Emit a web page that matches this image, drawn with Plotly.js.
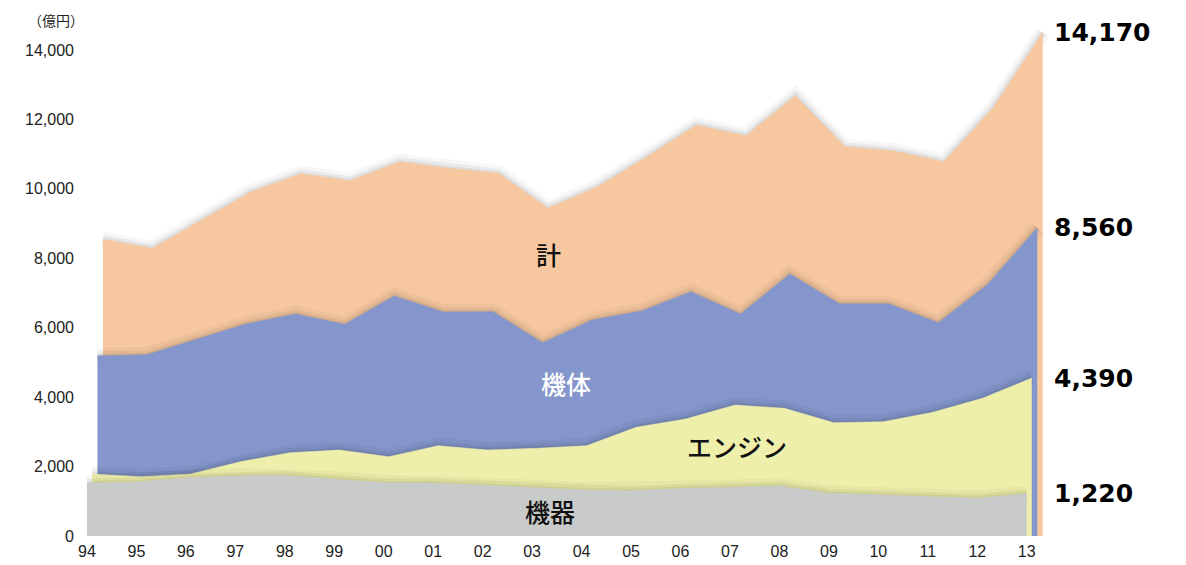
<!DOCTYPE html>
<html>
<head>
<meta charset="utf-8">
<script src="https://cdn.plot.ly/plotly-3.0.1.min.js"></script>
<style>
  html, body { margin: 0; padding: 0; background: #fff; }
  #plotArea { width: 1186px; height: 565px; }
</style>
</head>
<body>
<div id="plotArea"></div>
<script>
// fiscal years
var years = ["94", "95", "96", "97", "98", "99", "00", "01", "02", "03",
             "04", "05", "06", "07", "08", "09", "10", "11", "12", "13"];

// 億円
var total     = [8216, 7956, 8772, 9587, 10106, 9904, 10451, 10261, 10117, 9109,
                 9731, 10595, 11508, 11200, 12352, 10883, 10759, 10451, 12007, 14170];
var airframe  = [4877, 4906, 5349, 5790, 6078, 5781, 6597, 6136, 6145, 5252,
                 5905, 6165, 6721, 6078, 7231, 6376, 6376, 5828, 6934, 8560];
var engine    = [1628, 1550, 1628, 1982, 2241, 2319, 2126, 2443, 2319, 2368,
                 2443, 2973, 3212, 3615, 3520, 3105, 3134, 3405, 3808, 4390];
var equipment = [1527, 1556, 1670, 1730, 1740, 1640, 1535, 1525, 1470, 1400,
                 1325, 1305, 1365, 1400, 1440, 1230, 1180, 1135, 1085, 1220];

var names = ["計", "機体", "エンジン", "機器"];

// back to front; dx/dy = pseudo 3D depth offset in pixels
var layers = [
    {y: total,     color: "#F7C8A0", dx: 16,   dy: 11.5},
    {y: airframe,  color: "#8496CB", dx: 10.5, dy: 11},
    {y: engine,    color: "#EEEFAA", dx: 5,    dy: 5.5},
    {y: equipment, color: "#C9CACA", dx: 0,    dy: 0}
];

var W = 970, H = 520;             // plot area in px
var xr = [-0.14, 19.47];
var yr = [-115, 14864];
var pxX = W / (xr[1] - xr[0]);
var pxY = H / (yr[1] - yr[0]);

var idx = years.map(function (d, i) { return i; });

var data = [];
var layout = {
    width: 1186,
    height: 565,
    margin: {l: 80, r: 136, t: 20, b: 25},
    paper_bgcolor: "#fff",
    plot_bgcolor: "rgba(0,0,0,0)",
    showlegend: false,
    font: {family: "Liberation Sans, Arial, sans-serif", color: "#222"},
    xaxis: {
        range: xr, tickmode: "array", tickvals: idx, ticktext: years,
        showgrid: false, zeroline: false, showline: false, ticks: "",
        tickfont: {size: 16, color: "#222"}
    },
    yaxis: {
        range: yr, tickmode: "array",
        tickvals: [0, 2000, 4000, 6000, 8000, 10000, 12000, 14000],
        tickformat: ",d", showgrid: false, zeroline: false, showline: false, ticks: "",
        ticklabelstandoff: 5,
        tickfont: {size: 16, color: "#222"}
    },
    annotations: [],
    shapes: []
};

// dummy trace so the main axes are drawn
data.push({x: [0], y: [0], xaxis: "x", yaxis: "y", mode: "markers",
           marker: {opacity: 0}, hoverinfo: "skip"});

layers.forEach(function (L, k) {
    var n = k + 2;
    var ox = L.dx / pxX, oy = L.dy / pxY;
    layout["xaxis" + n] = {
        overlaying: "x", range: [xr[0] - ox, xr[1] - ox], visible: false
    };
    layout["yaxis" + n] = {
        overlaying: "y", range: [yr[0] - oy, yr[1] - oy], visible: false
    };
    // soft shadow along the top edge
    [[16, 0.03], [9, 0.05], [4, 0.06]].forEach(function (s) {
        data.push({
            x: idx, y: L.y, xaxis: "x" + n, yaxis: "y" + n,
            type: "scatter", mode: "lines", hoverinfo: "skip",
            line: {color: "rgba(0,0,0," + s[1] + ")", width: s[0]}
        });
    });
    // floor: the shared baseline, seen from this layer's shifted axis
    data.push({
        x: idx, y: idx.map(function () { return -oy; }),
        xaxis: "x" + n, yaxis: "y" + n, type: "scatter", mode: "lines",
        line: {width: 0, color: L.color}, hoverinfo: "skip"
    });
    data.push({
        x: idx, y: L.y, xaxis: "x" + n, yaxis: "y" + n, name: names[k],
        type: "scatter", mode: "lines", fill: "tonexty",
        fillcolor: L.color, line: {color: L.color, width: 0.5}
    });
    // latest value at the right end
    var last = L.y[L.y.length - 1];
    layout.annotations.push({
        xref: "paper", yref: "y" + n, x: 1.002, y: last,
        xanchor: "left", yanchor: "middle", showarrow: false,
        text: last.toLocaleString("en-US"),
        font: {family: "DejaVu Sans", size: 25, color: "#000", weight: "bold"}
    });
});

// series names inside the areas
var nameFont = {family: "Noto Sans CJK JP", size: 25, color: "#111", weight: 500};
layout.annotations.push(
    {xref: "x", yref: "y", x: 9.34, y: 8124, text: names[0], showarrow: false, font: nameFont},
    {xref: "x", yref: "y", x: 9.68, y: 4407, text: names[1], showarrow: false,
     font: {family: "Noto Sans CJK JP", size: 25, color: "#fff", weight: 500}},
    {xref: "x", yref: "y", x: 13.14, y: 2593, text: names[2], showarrow: false, font: nameFont},
    {xref: "x", yref: "y", x: 9.36, y: 720, text: names[3], showarrow: false, font: nameFont},
    {xref: "paper", yref: "paper", x: -0.056, y: 1.0, xanchor: "left", yanchor: "middle",
     text: "（億円）", showarrow: false,
     font: {family: "Noto Sans CJK JP", size: 14, color: "#222"}}
);

Plotly.newPlot("plotArea", data, layout, {displayModeBar: false, staticPlot: true});
</script>
</body>
</html>
